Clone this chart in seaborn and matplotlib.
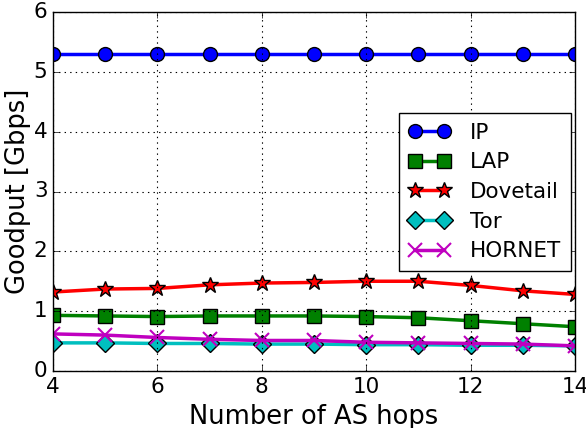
import matplotlib
matplotlib.use("Agg")
import matplotlib.pyplot as plt
import seaborn as sns
import pandas as pd

hops = [4, 5, 6, 7, 8, 9, 10, 11, 12, 13, 14]
ip = [5.3] * 11
lap = [0.93, 0.92, 0.91, 0.92, 0.92, 0.92, 0.91, 0.89, 0.84, 0.79, 0.74]
dovetail = [1.32, 1.37, 1.38, 1.44, 1.47, 1.48, 1.50, 1.50, 1.43, 1.34, 1.28]
tor = [0.47, 0.47, 0.46, 0.46, 0.45, 0.45, 0.44, 0.44, 0.43, 0.43, 0.42]
hornet = [0.62, 0.60, 0.56, 0.53, 0.51, 0.51, 0.48, 0.47, 0.46, 0.45, 0.42]
series_names = ["IP", "LAP", "Dovetail", "Tor", "HORNET"]
colors = ["#0000ff", "#008000", "#ff0000", "#00bfbf", "#bf00bf"]
markers = ["o", "s", "*", "D", "x"]
msizes = [10, 9.5, 12, 9, 10.5]

plt.style.use("classic")
plt.rcParams["font.family"] = "DejaVu Sans"

rows = []
for name, vals in zip(series_names, [ip, lap, dovetail, tor, hornet]):
    for h, v in zip(hops, vals):
        rows.append({"hops": h, "goodput": v, "series": name})
df = pd.DataFrame(rows)

fig = plt.figure(figsize=(5.86, 4.28), dpi=100, facecolor="white")
ax = fig.add_axes([53/586, 1-371/428, (575-53)/586, (371-12)/428])
ax.set_facecolor("white")

for name, c, m, ms in zip(series_names, colors, markers, msizes):
    sub = df[df["series"] == name]
    sns.lineplot(data=sub, x="hops", y="goodput", ax=ax, color=c, marker=m,
                 markersize=ms, linewidth=2.5, label=name,
                 markeredgecolor=(c if m == "x" else "black"),
                 markeredgewidth=(1.5 if m == "x" else 1.0))

ax.set_xlim(4, 14)
ax.set_ylim(0, 6)
ax.set_xticks([4, 6, 8, 10, 12, 14])
ax.set_yticks([0, 1, 2, 3, 4, 5, 6])
ax.grid(True, linestyle=":", color="black", linewidth=0.8)
ax.tick_params(labelsize=15.5, direction="in", length=4)
ax.set_xlabel("Number of AS hops", fontsize=18.5)
ax.set_ylabel("Goodput [Gbps]", fontsize=18.5)
ax.yaxis.set_label_coords(-0.042, 0.5)
leg = ax.legend(loc="upper right", bbox_to_anchor=(0.992, 0.719), fontsize=15.5,
                numpoints=2, frameon=True, fancybox=False, borderaxespad=0,
                handlelength=1.95, handletextpad=0.9, labelspacing=0.45,
                borderpad=0.45)
leg.get_frame().set_edgecolor("black")
fig.savefig("out.png", dpi=100, facecolor="white")
